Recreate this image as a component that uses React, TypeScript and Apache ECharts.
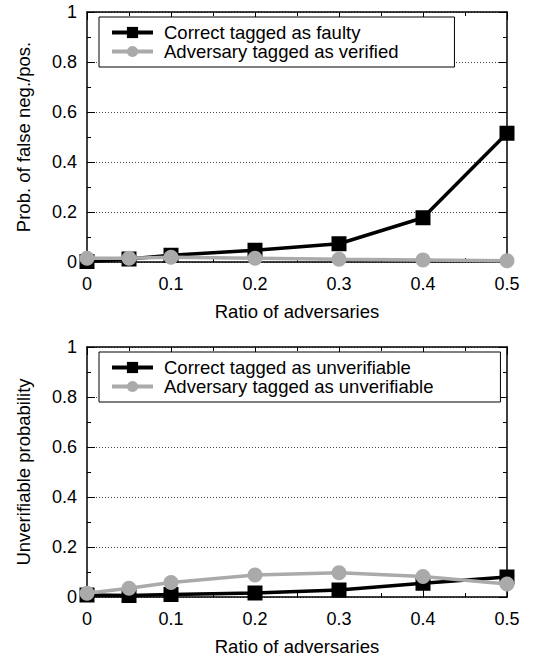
import React, { useEffect, useRef } from "react";
import * as echarts from "echarts";

const xs = [0, 0.05, 0.1, 0.2, 0.3, 0.4, 0.5];
const correctFaulty = [0.002, 0.012, 0.027, 0.047, 0.073, 0.177, 0.515];
const adversaryVerified = [0.015, 0.015, 0.019, 0.015, 0.011, 0.008, 0.005];
const correctUnverifiable = [0.008, 0.006, 0.01, 0.016, 0.028, 0.055, 0.08];
const adversaryUnverifiable = [0.015, 0.035, 0.058, 0.088, 0.097, 0.082, 0.052];

const xTitle = "Ratio of adversaries";
const yTitleTop = "Prob. of false neg./pos.";
const yTitleBottom = "Unverifiable probability";
const namesTop = ["Correct tagged as faulty", "Adversary tagged as verified"];
const namesBottom = ["Correct tagged as unverifiable", "Adversary tagged as unverifiable"];

const FONT = "'Liberation Sans', Arial, Helvetica, sans-serif";
const BLACK = "#000000";
const GRAY = "#aaaaaa";

export default function App() {
  const ref = useRef<HTMLDivElement>(null);
  useEffect(() => {
    if (!ref.current) return;
    const chart = echarts.init(ref.current, undefined, { renderer: "svg" });
    const pair = (a: number[]) => xs.map((x, i) => [x, a[i]]);
    const tickStyle = { color: BLACK, width: 1 };
    const mkX = (gi: number, pos: "bottom" | "top") => ({
      type: "value",
      gridIndex: gi,
      position: pos,
      min: 0,
      max: 0.5,
      interval: 0.1,
      name: pos === "bottom" ? xTitle : "",
      nameLocation: "middle",
      nameGap: 40,
      nameTextStyle: { fontFamily: FONT, fontSize: 18.5, color: BLACK },
      axisLine: { show: true, onZero: false, lineStyle: { color: BLACK, width: 1.5 } },
      axisTick: { show: true, inside: true, length: 8, lineStyle: tickStyle },
      minorTick: { show: true, splitNumber: 2, length: 4, lineStyle: tickStyle },
      axisLabel: {
        show: pos === "bottom",
        margin: 13,
        fontFamily: FONT,
        fontSize: 18,
        color: BLACK,
        formatter: (v: number) => String(Math.round(v * 10) / 10),
      },
      splitLine: { show: false },
    });
    const mkY = (gi: number, pos: "left" | "right", title: string) => ({
      type: "value",
      gridIndex: gi,
      position: pos,
      min: 0,
      max: 1,
      interval: 0.2,
      name: pos === "left" ? title : "",
      nameLocation: "middle",
      nameRotate: 90,
      nameGap: 54,
      nameTextStyle: { fontFamily: FONT, fontSize: 18.5, color: BLACK },
      axisLine: { show: true, onZero: false, lineStyle: { color: BLACK, width: 1.5 } },
      axisTick: { show: true, inside: true, length: 8, lineStyle: tickStyle },
      minorTick: { show: true, splitNumber: 2, length: 4, lineStyle: tickStyle },
      axisLabel: {
        show: pos === "left",
        margin: 10,
        fontFamily: FONT,
        fontSize: 18,
        color: BLACK,
        formatter: (v: number) => String(Math.round(v * 10) / 10),
      },
      splitLine: {
        show: pos === "left",
        lineStyle: { color: "#444", width: 1, type: [1, 2] },
      },
    });
    const blackSeries = (name: string, data: number[], gi: number) => ({
      name,
      type: "line",
      xAxisIndex: gi * 2,
      yAxisIndex: gi * 2,
      data: pair(data),
      symbol: "rect",
      symbolSize: 15,
      lineStyle: { color: BLACK, width: 3.5 },
      itemStyle: { color: BLACK },
      z: 3,
    });
    const graySeries = (name: string, data: number[], gi: number) => ({
      name,
      type: "line",
      xAxisIndex: gi * 2,
      yAxisIndex: gi * 2,
      data: pair(data),
      symbol: "circle",
      symbolSize: 15,
      lineStyle: { color: GRAY, width: 3.5 },
      itemStyle: { color: GRAY },
      z: 4,
    });
    const legendBase = {
      orient: "vertical",
      left: 99,
      itemWidth: 41,
      itemHeight: 14,
      itemGap: 0,
      backgroundColor: "#ffffff",
      borderColor: BLACK,
      borderWidth: 1,
      borderRadius: 0,
      lineStyle: { width: 4 },
      textStyle: { fontFamily: FONT, fontSize: 18.5, color: BLACK, lineHeight: 17.5, padding: [0, 0, 0, 6] },
      z: 10,
    };
    chart.setOption({
      animation: false,
      backgroundColor: "#ffffff",
      grid: [
        { left: 87, right: 26, top: 12, height: 250, containLabel: false },
        { left: 87, right: 26, top: 347, height: 250, containLabel: false },
      ],
      xAxis: [mkX(0, "bottom"), mkX(0, "top"), mkX(1, "bottom"), mkX(1, "top")],
      yAxis: [
        mkY(0, "left", yTitleTop),
        mkY(0, "right", ""),
        mkY(1, "left", yTitleBottom),
        mkY(1, "right", ""),
      ],
      legend: [
        { ...legendBase, top: 17, padding: [6, 56, 6, 11], data: namesTop },
        { ...legendBase, top: 352, padding: [6, 67, 6, 11], data: namesBottom },
      ],
      series: [
        blackSeries(namesTop[0], correctFaulty, 0),
        graySeries(namesTop[1], adversaryVerified, 0),
        blackSeries(namesBottom[0], correctUnverifiable, 1),
        graySeries(namesBottom[1], adversaryUnverifiable, 1),
      ],
    });
    return () => chart.dispose();
  }, []);
  return (
    <div
      ref={ref}
      style={{ position: "fixed", left: 0, top: 0, width: 533, height: 658, background: "#fff" }}
    />
  );
}
